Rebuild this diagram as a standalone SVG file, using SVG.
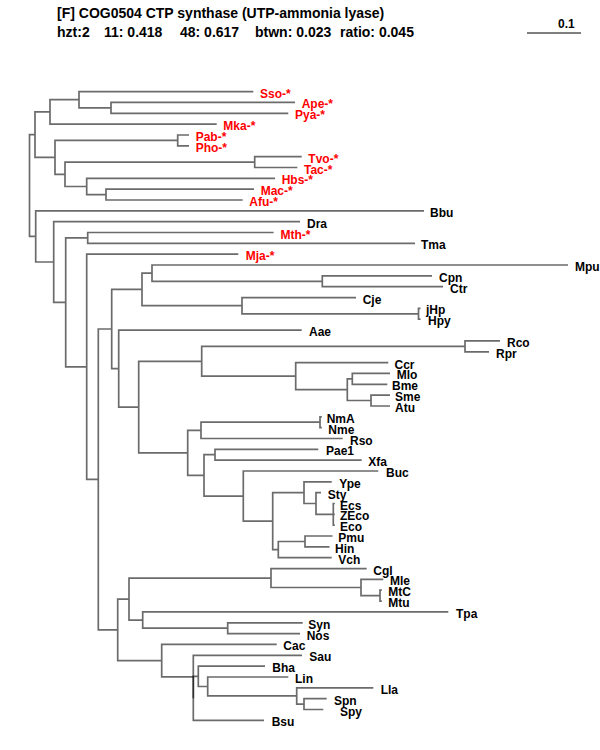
<svg xmlns="http://www.w3.org/2000/svg" width="600" height="750" viewBox="0 0 600 750">
<style>
.e{fill:none;stroke:#6b6b6b;stroke-width:1.7}
.ov{fill:none;stroke:#000;stroke-opacity:.58;stroke-width:1.7}
text{font-family:"Liberation Sans",Arial,Helvetica,sans-serif;font-weight:bold}
.l{font-size:12px}
.r{fill:#f00}
.k{fill:#000}
.t{font-size:14px;fill:#000}
</style>
<rect width="600" height="750" fill="#fff"/>
<g id="title">
<text class="t" x="57" y="18">[F] COG0504 CTP synthase (UTP-ammonia lyase)</text>
<text class="t" y="37"><tspan x="57">hzt:2</tspan><tspan x="104">11: 0.418</tspan><tspan x="180">48: 0.617</tspan><tspan x="255">btwn: 0.023</tspan><tspan x="340">ratio: 0.045</tspan></text>
</g>
<g id="scale">
<line x1="527" y1="33" x2="581" y2="33" stroke="#000" stroke-width="1"/>
<text class="l k" x="558" y="28">0.1</text>
</g>
<g id="connectors">
<path class="e" d="M29.5 185.5V134.6H35M29.5 185.5V236.4H35.7"/>
<path class="e" d="M35 134.6V111.9H50M35 134.6V157.3H55"/>
<path class="e" d="M50 111.9V99.7H79M50 111.9V124.1H216.7"/>
<path class="e" d="M79 99.7V91.6H253.3M79 99.7V107.9H111"/>
<path class="e" d="M111 107.9V102.4H295M111 107.9V113.3H288.3"/>
<path class="e" d="M55 157.3V140.4H177.7M55 157.3V174.3H65"/>
<path class="e" d="M177.7 140.4V135H189M177.7 140.4V145.8H189"/>
<path class="e" d="M65 174.3V162.1H254.7M65 174.3V186.5H86.7"/>
<path class="e" d="M254.7 162.1V156.6H301.7M254.7 162.1V167.5H297.3"/>
<path class="e" d="M86.7 186.5V178.3H275M86.7 186.5V194.6H106"/>
<path class="e" d="M106 194.6V189.2H254M106 194.6V200H242.7"/>
<path class="e" d="M35.7 236.4V210.8H424M35.7 236.4V262H53.7"/>
<path class="e" d="M53.7 262V221.7H300M53.7 262V302.4H65.7"/>
<path class="e" d="M65.7 302.4V237.9H87.7M65.7 302.4V366.8H86.7"/>
<path class="e" d="M87.7 237.9V232.5H273.6M87.7 237.9V243.4H415"/>
<path class="e" d="M86.7 366.8V254.2H238.3M86.7 366.8V479.4H98.3"/>
<path class="e" d="M98.3 479.4V329H111.7M98.3 479.4V629.8H117.7"/>
<path class="e" d="M111.7 329V289.4H142M111.7 329V368.6H118.7"/>
<path class="e" d="M142 289.4V273.2H152M142 289.4V305.7H242"/>
<path class="e" d="M152 273.2V265H568M152 273.2V281.3H322.3"/>
<path class="e" d="M322.3 281.3V275.9H432M322.3 281.3V286.7H443"/>
<path class="e" d="M242 305.7V297.6H356M242 305.7V313.8H418.5"/>
<path class="e" d="M418.5 313.8V308.4H420.5M418.5 313.8V319.2H420.5"/>
<path class="e" d="M118.7 368.6V330.1H301.7M118.7 368.6V407.1H138.7"/>
<path class="e" d="M138.7 407.1V361.3H201.7M138.7 407.1V452.9H187.7"/>
<path class="e" d="M201.7 361.3V346.3H465M201.7 361.3V376.2H295.7"/>
<path class="e" d="M465 346.3V340.9H500M465 346.3V351.8H489"/>
<path class="e" d="M295.7 376.2V362.6H388.3M295.7 376.2V389.7H347.3"/>
<path class="e" d="M347.3 389.7V378.9H352.3M347.3 389.7V400.5H371"/>
<path class="e" d="M352.3 378.9V373.4H390M352.3 378.9V384.3H387.3"/>
<path class="e" d="M371 400.5V395.1H390M371 400.5V406H390"/>
<path class="e" d="M187.7 452.9V430.4H201M187.7 452.9V475.4H204"/>
<path class="e" d="M201 430.4V422.2H320M201 430.4V438.5H342.7"/>
<path class="e" d="M320 422.2V416.8H321.8M320 422.2V427.6H321.8"/>
<path class="e" d="M204 475.4V454.7H215M204 475.4V496.1H243.3"/>
<path class="e" d="M215 454.7V449.3H318.3M215 454.7V460.2H361.7"/>
<path class="e" d="M243.3 496.1V471H378.3M243.3 496.1V521.1H272.7"/>
<path class="e" d="M272.7 521.1V492.7H304M272.7 521.1V549.6H278.3"/>
<path class="e" d="M304 492.7V481.8H331.7M304 492.7V503.5H316"/>
<path class="e" d="M316 503.5V492.7H321M316 503.5V514.4H333.3"/>
<path class="e" d="M333.3 514.4V503.5H334.8M333.3 514.4H334.8M333.3 514.4V525.2H334.8"/>
<path class="e" d="M278.3 549.6V541.5H305M278.3 549.6V557.7H331.7"/>
<path class="e" d="M305 541.5V536H332.5M305 541.5V546.9H329.5"/>
<path class="e" d="M117.7 629.8V599.1H129M117.7 629.8V660.6H161.7"/>
<path class="e" d="M129 599.1V578.1H271M129 599.1V620.1H142.7"/>
<path class="e" d="M271 578.1V568.6H366.7M271 578.1V587.5H361"/>
<path class="e" d="M361 587.5V579.4H383.3M361 587.5V595.7H380"/>
<path class="e" d="M380 595.7V590.2H381.8M380 595.7V601.1H381.8"/>
<path class="e" d="M142.7 620.1V611.9H448.3M142.7 620.1V628.2H227.7"/>
<path class="e" d="M227.7 628.2V622.8H302.7M227.7 628.2V633.6H300"/>
<path class="e" d="M161.7 660.6V644.4H276.7M161.7 660.6V676.8H193.3"/>
<path class="ov" d="M193.3 676.8V655.3H302M193.3 676.8V698.3"/>
<path class="ov" d="M193.3 698.3V676.3H198.3M193.3 698.3V720.3H264"/>
<path class="e" d="M198.3 676.3V666.1H265M198.3 676.3V686.5H207.7"/>
<path class="e" d="M207.7 686.5V677H288.3M207.7 686.5V695.9H296.7"/>
<path class="e" d="M296.7 695.9V687.8H373.3M296.7 695.9V704.1H304"/>
<path class="e" d="M304 704.1V698.6H326.7M304 704.1V709.5H323.3"/>
</g>
<g id="n-Sso"><text class="l r" x="260" y="97.6">Sso-*</text></g>
<g id="n-Ape"><text class="l r" x="301.7" y="108.4">Ape-*</text></g>
<g id="n-Pya"><text class="l r" x="295" y="119.3">Pya-*</text></g>
<g id="n-Mka"><text class="l r" x="223.3" y="130.1">Mka-*</text></g>
<g id="n-Pab"><text class="l r" x="195.7" y="141">Pab-*</text></g>
<g id="n-Pho"><text class="l r" x="195.7" y="151.8">Pho-*</text></g>
<g id="n-Tvo"><text class="l r" x="308.3" y="162.6">Tvo-*</text></g>
<g id="n-Tac"><text class="l r" x="304" y="173.5">Tac-*</text></g>
<g id="n-Hbs"><text class="l r" x="281.7" y="184.3">Hbs-*</text></g>
<g id="n-Mac"><text class="l r" x="260.7" y="195.2">Mac-*</text></g>
<g id="n-Afu"><text class="l r" x="249.3" y="206">Afu-*</text></g>
<g id="n-Bbu"><text class="l k" x="430" y="216.8">Bbu</text></g>
<g id="n-Dra"><text class="l k" x="307" y="227.7">Dra</text></g>
<g id="n-Mth"><text class="l r" x="280.5" y="238.5">Mth-*</text></g>
<g id="n-Tma"><text class="l k" x="421" y="249.4">Tma</text></g>
<g id="n-Mja"><text class="l r" x="245.7" y="260.2">Mja-*</text></g>
<g id="n-Mpu"><text class="l k" x="575" y="271">Mpu</text></g>
<g id="n-Cpn"><text class="l k" x="439" y="281.9">Cpn</text></g>
<g id="n-Ctr"><text class="l k" x="450" y="292.7">Ctr</text></g>
<g id="n-Cje"><text class="l k" x="362.7" y="303.6">Cje</text></g>
<g id="n-jHp"><text class="l k" x="426" y="314.4">jHp</text></g>
<g id="n-Hpy"><text class="l k" x="428" y="325.2">Hpy</text></g>
<g id="n-Aae"><text class="l k" x="309" y="336.1">Aae</text></g>
<g id="n-Rco"><text class="l k" x="507" y="346.9">Rco</text></g>
<g id="n-Rpr"><text class="l k" x="496" y="357.8">Rpr</text></g>
<g id="n-Ccr"><text class="l k" x="394.5" y="368.6">Ccr</text></g>
<g id="n-Mlo"><text class="l k" x="396.7" y="379.4">Mlo</text></g>
<g id="n-Bme"><text class="l k" x="392" y="390.3">Bme</text></g>
<g id="n-Sme"><text class="l k" x="395" y="401.1">Sme</text></g>
<g id="n-Atu"><text class="l k" x="395" y="412">Atu</text></g>
<g id="n-NmA"><text class="l k" x="326.7" y="422.8">NmA</text></g>
<g id="n-Nme"><text class="l k" x="328.3" y="433.6">Nme</text></g>
<g id="n-Rso"><text class="l k" x="350" y="444.5">Rso</text></g>
<g id="n-Pae1"><text class="l k" x="326" y="455.3">Pae1</text></g>
<g id="n-Xfa"><text class="l k" x="368.3" y="466.2">Xfa</text></g>
<g id="n-Buc"><text class="l k" x="386" y="477">Buc</text></g>
<g id="n-Ype"><text class="l k" x="339.3" y="487.8">Ype</text></g>
<g id="n-Sty"><text class="l k" x="327.7" y="498.7">Sty</text></g>
<g id="n-Ecs"><text class="l k" x="340" y="509.5">Ecs</text></g>
<g id="n-ZEco"><text class="l k" x="340" y="520.4">ZEco</text></g>
<g id="n-Eco"><text class="l k" x="340" y="531.2">Eco</text></g>
<g id="n-Pmu"><text class="l k" x="338.3" y="542">Pmu</text></g>
<g id="n-Hin"><text class="l k" x="335" y="552.9">Hin</text></g>
<g id="n-Vch"><text class="l k" x="338.3" y="563.7">Vch</text></g>
<g id="n-Cgl"><text class="l k" x="373.3" y="574.6">Cgl</text></g>
<g id="n-Mle"><text class="l k" x="390" y="585.4">Mle</text></g>
<g id="n-MtC"><text class="l k" x="388.3" y="596.2">MtC</text></g>
<g id="n-Mtu"><text class="l k" x="388.3" y="607.1">Mtu</text></g>
<g id="n-Tpa"><text class="l k" x="456" y="617.9">Tpa</text></g>
<g id="n-Syn"><text class="l k" x="308.3" y="628.8">Syn</text></g>
<g id="n-Nos"><text class="l k" x="306.7" y="639.6">Nos</text></g>
<g id="n-Cac"><text class="l k" x="283.3" y="650.4">Cac</text></g>
<g id="n-Sau"><text class="l k" x="309.3" y="661.3">Sau</text></g>
<g id="n-Bha"><text class="l k" x="272.3" y="672.1">Bha</text></g>
<g id="n-Lin"><text class="l k" x="295" y="683">Lin</text></g>
<g id="n-Lla"><text class="l k" x="380.7" y="693.8">Lla</text></g>
<g id="n-Spn"><text class="l k" x="334" y="704.6">Spn</text></g>
<g id="n-Spy"><text class="l k" x="340" y="715.5">Spy</text></g>
<g id="n-Bsu"><text class="l k" x="271.7" y="726.3">Bsu</text></g>
</svg>
